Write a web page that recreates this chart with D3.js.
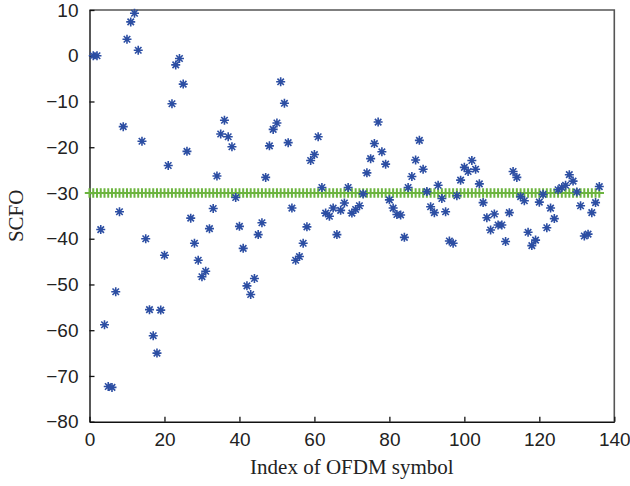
<!DOCTYPE html>
<html lang="en">
<head>
  <meta charset="UTF-8">
  <title>SCFO estimate</title>
  <script src="https://d3js.org/d3.v7.min.js"></script>
  <style>
    html, body { margin: 0; padding: 0; background: #fff; }
    svg { display: block; font-family: "Liberation Serif", "DejaVu Serif", serif; }
    .tick-label { font-size: 19px; fill: #222; }
    .axis-title { font-size: 21px; fill: #222; }
  </style>
</head>
<body>
  <svg width="630" height="486"></svg>
  <script>
    // estimated SCFO per OFDM symbol (index 1..136)
    const symbolIndex = d3.range(1, 137);
    const scfoEstimate = [
      0, 0, -38, -58.8, -72.3, -72.5, -51.6, -34.1, -15.5, 3.6,
      7.4, 9.3, 1.2, -18.7, -40, -55.5, -61.2, -65, -55.6, -43.6,
      -24, -10.5, -2.0, -0.6, -6.2, -20.9, -35.5, -41, -44.7, -48.3,
      -47.1, -37.8, -33.4, -26.3, -17.1, -14.1, -17.7, -19.9, -31.0, -37.3,
      -42.1, -50.3, -52.2, -48.7, -39.1, -36.5, -26.6, -19.7, -16.1, -14.7,
      -5.7, -10.4, -19.0, -33.3, -44.7, -43.9, -41.0, -37.4, -22.9, -21.6,
      -17.7, -28.8, -34.4, -35.1, -33.3, -39.1, -33.8, -32.2, -28.8, -34.4,
      -33.6, -32.8, -30.2, -25.6, -22.5, -19.2, -14.5, -21.0, -23.7, -31.5,
      -33.3, -34.7, -34.8, -39.7, -28.8, -26.4, -22.8, -18.5, -24.8, -29.7,
      -33.0, -34.3, -28.3, -31.2, -34.1, -40.5, -41.0, -30.6, -27.2, -24.4,
      -25.3, -22.9, -24.8, -28.0, -32.1, -35.4, -38.1, -34.6, -37.0, -37.0,
      -40.6, -34.3, -25.3, -26.6, -30.8, -31.7, -38.6, -41.5, -40.3, -32.0,
      -30.3, -37.6, -33.3, -35.6, -29.3, -28.8, -28.3, -26.0, -27.4, -29.8,
      -32.8, -39.4, -39.0, -34.3, -32.1, -28.6
    ];
    // true SCFO (constant) drawn at every symbol index 0..136
    const trueIndex = d3.range(0, 137);
    const trueScfo = -30;

    const xTicks = [0, 20, 40, 60, 80, 100, 120, 140];
    const yTicks = [10, 0, -10, -20, -30, -40, -50, -60, -70, -80];

    const m = { left: 89.5, right: 614.3, top: 10, bottom: 421.7 };
    const svg = d3.select("svg");
    const x = d3.scaleLinear().domain([0, 140]).range([m.left, m.right]);
    const y = d3.scaleLinear().domain([-80, 10]).range([m.bottom, m.top]);

    // frame (top/right grey)
    svg.append("path")
      .attr("d", `M${m.left},${m.top}H${m.right}V${m.bottom}`)
      .attr("fill", "none").attr("stroke", "#555").attr("stroke-width", 1.6);

    // x axis, ticks inward
    const xAxis = svg.append("g").attr("transform", `translate(0,${m.bottom})`)
      .call(d3.axisBottom(x).tickValues(xTicks).tickSizeInner(-5).tickSizeOuter(0).tickPadding(11));
    xAxis.select(".domain").attr("stroke", "#111").attr("stroke-width", 1.4);
    xAxis.selectAll(".tick line").attr("stroke", "#111").attr("stroke-width", 1.3);
    xAxis.selectAll("text").attr("class", "tick-label").attr("font-family", null).attr("font-size", null).attr("fill", null);

    // y axis
    const fmt = d => d < 0 ? "\u2212" + Math.abs(d) : String(d);
    const yAxis = svg.append("g").attr("transform", `translate(${m.left},0)`)
      .call(d3.axisLeft(y).tickValues(yTicks).tickFormat(fmt).tickSizeInner(-5).tickSizeOuter(0).tickPadding(11));
    yAxis.select(".domain").attr("stroke", "#111").attr("stroke-width", 1.4);
    yAxis.selectAll(".tick line").attr("stroke", "#111").attr("stroke-width", 1.3);
    yAxis.selectAll("text").attr("class", "tick-label").attr("font-family", null).attr("font-size", null).attr("fill", null);

    // green "+" markers
    const ph = 4.7;
    svg.append("g").selectAll("path").data(trueIndex).enter().append("path")
      .attr("d", d => {
        const cx = x(d), cy = y(trueScfo);
        return `M${cx - ph},${cy}H${cx + ph}M${cx},${cy - ph}V${cy + ph}`;
      })
      .attr("stroke", "#6cb43f").attr("stroke-width", 2).attr("fill", "none");

    // blue asterisks
    const r = 4.5, rd = r * 0.72;
    svg.append("g").selectAll("path").data(symbolIndex).enter().append("path")
      .attr("d", (d, i) => {
        const cx = x(d), cy = y(scfoEstimate[i]);
        return `M${cx - r},${cy}H${cx + r}M${cx},${cy - r}V${cy + r}` +
               `M${cx - rd},${cy - rd}L${cx + rd},${cy + rd}M${cx - rd},${cy + rd}L${cx + rd},${cy - rd}`;
      })
      .attr("stroke", "#2c4ea3").attr("stroke-width", 1.6).attr("fill", "none");

    // titles
    svg.append("text").attr("class", "axis-title")
      .attr("x", (m.left + m.right) / 2).attr("y", 474).attr("text-anchor", "middle")
      .text("Index of OFDM symbol");
    svg.append("text").attr("class", "axis-title")
      .attr("transform", `translate(23,${(m.top + m.bottom) / 2}) rotate(-90)`)
      .attr("text-anchor", "middle")
      .text("SCFO");
  </script>
</body>
</html>
